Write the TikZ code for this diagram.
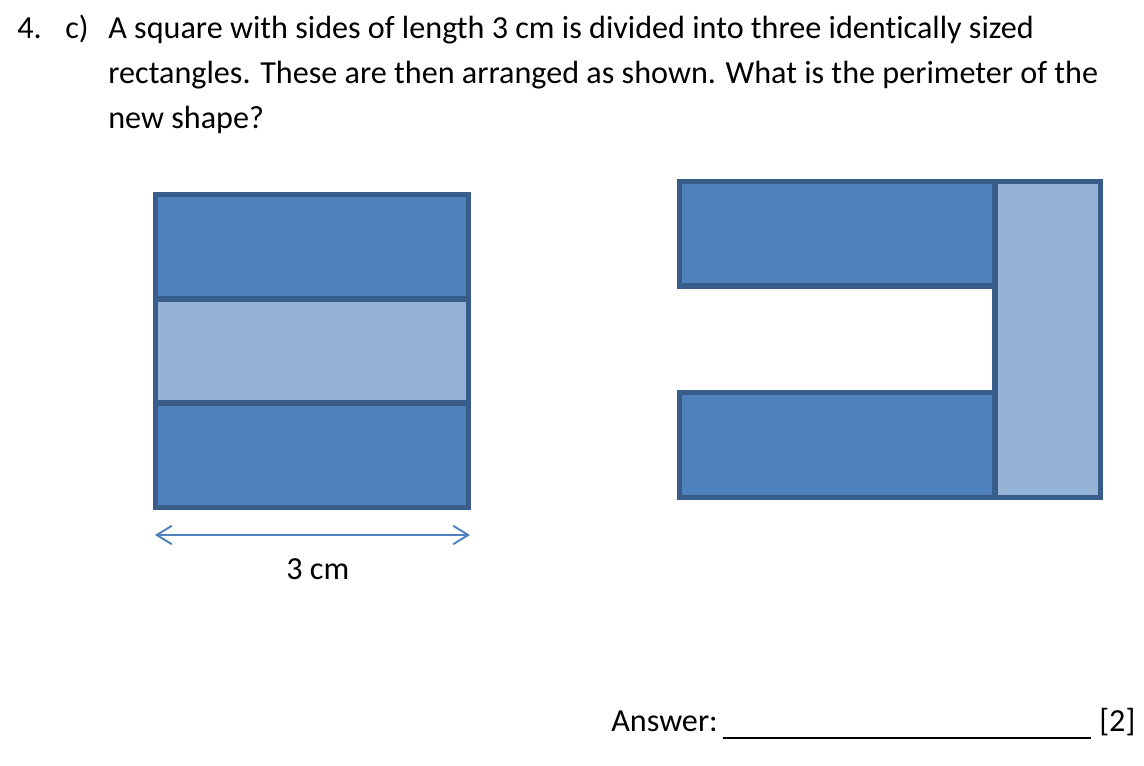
\documentclass[tikz,border=0pt]{standalone}
\usepackage{fontspec}
\setmainfont{Carlito}[Ligatures=NoCommon]
\usepackage{xcolor}
\usetikzlibrary{arrows.meta,positioning}
\definecolor{bardark}{HTML}{4F81BD}
\definecolor{barlight}{HTML}{95B3D7}
\definecolor{barline}{HTML}{385D8A}

\begin{document}
\begin{tikzpicture}[x=0.02cm,y=-0.02cm,
	txt/.style={anchor=base west,inner sep=0pt,font=\fontsize{18.3}{25.5}\selectfont},
	darkbar/.style={draw=barline,fill=bardark,line width=2.9pt},
	lightbar/.style={draw=barline,fill=barlight,line width=2.9pt},
	dimline/.style={draw=bardark,line width=1.1pt,{Straight Barb[length=8.5pt,width=10.5pt]}-{Straight Barb[length=8.5pt,width=10.5pt]}}]
	 \useasboundingbox (0,0) rectangle (1144,766);

	 % question text
	 \node at (17,39) [txt] (num) {4.};
	 \node at (65,39) [txt] (part) {c)};
	 \node at (108,39) [txt] (line1) {A square with sides of length 3 cm is divided into three identically sized};
	 \node at (108,84) [txt] (line2) {rectangles. These are then arranged as shown. What is the perimeter of the};
	 \node at (108,129) [txt] (line3) {new shape?};

	 % square cut in three
	 \draw[darkbar] (155.5,194.5) rectangle (468.5,299);
	 \draw[lightbar] (155.5,299) rectangle (468.5,403);
	 \draw[darkbar] (155.5,403) rectangle (468.5,507.5);

	 % width of the square
	 \coordinate (dimL) at (155,535);
	 \coordinate (dimR) at (470,535);
	 \draw[dimline] (dimL) -- (dimR);
	 \node at (286,580) [txt] (width) {3 cm};

	 % new shape
	 \draw[darkbar] (679.5,181.5) rectangle (995,286);
	 \draw[darkbar] (679.5,392.5) rectangle (995,497.5);
	 \draw[lightbar] (995,181.5) rectangle (1100.5,497.5);

	 % answer line
	 \node at (611,732) [txt] (answer) {Answer:};
	 \node at (1099,732) [txt] (marks) {[2]};
	 \coordinate (lineL) at (723,738);
	 \coordinate (lineR) at (1091,738);
	 \draw[line width=1.3pt] (lineL) -- (lineR);

\end{tikzpicture}
\end{document}
